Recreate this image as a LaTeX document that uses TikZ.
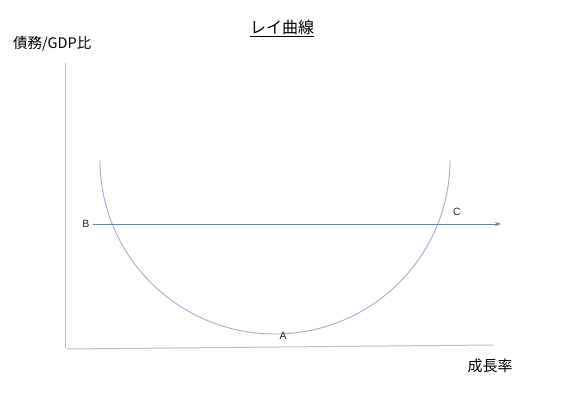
\documentclass[tikz,border=0pt]{standalone}
\usepackage{fontspec}
\setmainfont{Liberation Sans}
\newfontfamily\cjk{Noto Sans CJK JP}
\usetikzlibrary{arrows.meta}
\definecolor{axiscol}{HTML}{B4BEE6}
\definecolor{curvecol}{HTML}{A4AADE}
\definecolor{arrowcol}{HTML}{5A7ED0}
\tikzset{
  axisline/.style={draw=axiscol, line width=1pt},
  curveline/.style={draw=curvecol, line width=0.9pt},
  hline/.style={draw=arrowcol, line width=0.8pt, -{Stealth[length=6pt,width=4pt]}},
  jplabel/.style={font=\cjk\fontsize{14.5}{17}\selectfont, inner sep=0pt},
  ptlabel/.style={font=\fontsize{10.5}{12}\selectfont, text=black!85, inner sep=0pt},
}
\begin{document}
\begin{tikzpicture}[x=1pt,y=-1pt]
\useasboundingbox (0,0) rectangle (584,401);
% axes
\coordinate (ytop) at (65,63);
\coordinate (orig) at (65,348);
\coordinate (xl) at (67,349);
\coordinate (xr) at (493,345);
\draw[axisline] (ytop) -- (orig);
\draw[axisline] (xl) -- (xr);
% curve
\coordinate (cl) at (100,160);
\draw[curveline] (cl) arc[start angle=180, end angle=360, x radius=175, y radius=-174];
% horizontal arrow
\node[ptlabel] (B) at (86,224) {B};
\coordinate (arrowend) at (501,224);
\draw[hline] (B.east) ++(3,0) coordinate (bstart) -- (arrowend);
\node[ptlabel] (C) at (457,212) {C};
\node[ptlabel] (A) at (283,336) {A};
% texts
\node[jplabel, font=\cjk\fontsize{16}{18}\selectfont] (title) at (282,28) {\underline{レイ曲線}};
\node[jplabel, anchor=west] (ylab) at (13,44) {債務/GDP比};
\node[jplabel, font=\cjk\fontsize{15}{17}\selectfont] (xlab) at (490,366) {成長率};
\end{tikzpicture}
\end{document}
